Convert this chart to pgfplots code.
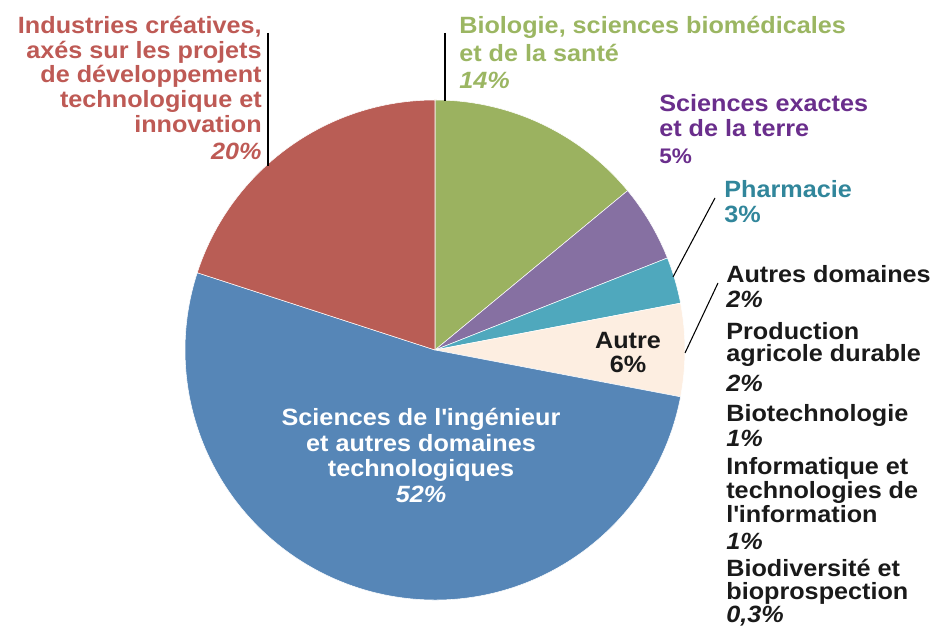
\documentclass[border=0pt]{standalone}
\usepackage{pgfplots}
\pgfplotsset{compat=1.18}
\usepackage{pgfplotstable}
\usepackage{fontspec}
\setmainfont{Liberation Sans}[FakeStretch=1.07]

\definecolor{cgreen}{RGB}{155,178,96}
\definecolor{cpurple}{RGB}{134,112,162}
\definecolor{cteal}{RGB}{79,168,189}
\definecolor{cautre}{RGB}{253,238,225}
\definecolor{cblue}{RGB}{86,134,183}
\definecolor{cred}{RGB}{185,93,85}
\definecolor{tred}{RGB}{190,90,85}
\definecolor{tgreen}{RGB}{155,182,98}
\definecolor{tpurple}{RGB}{106,46,140}
\definecolor{tteal}{RGB}{49,134,155}
\definecolor{tdark}{RGB}{26,26,26}

% share of each field (%), clockwise from the top
\pgfplotstableread{
share color
14 cgreen
5 cpurple
3 cteal
6 cautre
52 cblue
20 cred
}\piedata

\newcommand\lbl{\fontsize{13.4}{15}\selectfont\bfseries}
% one line of text: anchor, colour, x, y, text
\newcommand\tl[5]{\node[anchor=#1,text=#2,inner sep=0,font=\lbl] at (axis cs:#3,#4) {#5};}

\begin{document}
\begin{tikzpicture}
\begin{axis}[
  scale only axis,
  width=18.74cm, height=12.6cm,
  xmin=0, xmax=937, ymin=0, ymax=630,
  hide axis, clip=false,
]
% slices
\pgfplotstablegetrowsof{\piedata}
\pgfmathtruncatemacro\nrows{\pgfplotsretval-1}
\def\cumul{0}
\pgfplotsforeachungrouped \i in {0,...,\nrows}{
  \pgfplotstablegetelem{\i}{share}\of\piedata \let\s\pgfplotsretval
  \pgfplotstablegetelem{\i}{color}\of\piedata \let\c\pgfplotsretval
  \pgfmathsetmacro\a{90-3.6*\cumul}
  \pgfmathsetmacro\b{90-3.6*(\cumul+\s)}
  \edef\temp{\noexpand\fill[\c,draw=white,line width=0.3pt]
    (axis cs:435,280) -- ++(\a:5cm) arc[start angle=\a,end angle=\b,radius=5cm] -- cycle;}
  \temp
  \pgfmathsetmacro\cumul{\cumul+\s}
}

% leader lines
\draw[line width=0.6pt] (axis cs:268,597) -- (axis cs:268,464);
\draw[line width=0.6pt] (axis cs:445,597) -- (axis cs:445,529);
\draw[line width=0.6pt] (axis cs:715,432) -- (axis cs:673,353);
\draw[line width=0.6pt] (axis cs:718,347) -- (axis cs:685,277);

% red
\tl{base east}{tred}{262}{596}{Industries créatives,}
\tl{base east}{tred}{262}{571}{axés sur les projets}
\tl{base east}{tred}{262}{547}{de développement}
\tl{base east}{tred}{262}{522}{technologique et}
\tl{base east}{tred}{262}{497}{innovation}
\tl{base east}{tred}{262}{470}{\itshape 20\%}
% green
\tl{base west}{tgreen}{459}{596}{Biologie, sciences biomédicales}
\tl{base west}{tgreen}{459}{568}{et de la santé}
\tl{base west}{tgreen}{459}{541}{\itshape 14\%}
% purple
\tl{base west}{tpurple}{659}{518}{Sciences exactes}
\tl{base west}{tpurple}{659}{493}{et de la terre}
\tl{base west}{tpurple}{659}{466}{\fontsize{12}{13}\selectfont 5\%}
% teal
\tl{base west}{tteal}{724}{432}{Pharmacie}
\tl{base west}{tteal}{724}{407}{3\%}
% details of Autre
\tl{base west}{tdark}{726}{347}{Autres domaines}
\tl{base west}{tdark}{726}{322}{\itshape 2\%}
\tl{base west}{tdark}{726}{290}{Production}
\tl{base west}{tdark}{726}{268}{agricole durable}
\tl{base west}{tdark}{726}{238}{\itshape 2\%}
\tl{base west}{tdark}{726}{208}{Biotechnologie}
\tl{base west}{tdark}{726}{183}{\itshape 1\%}
\tl{base west}{tdark}{726}{155}{Informatique et}
\tl{base west}{tdark}{726}{131}{technologies de}
\tl{base west}{tdark}{726}{107}{l\textquotesingle information}
\tl{base west}{tdark}{726}{80}{\itshape 1\%}
\tl{base west}{tdark}{726}{53}{Biodiversité et}
\tl{base west}{tdark}{726}{30}{bioprospection}
\tl{base west}{tdark}{726}{7}{\itshape 0,3\%}
% inside the slices
\tl{base}{tdark}{628}{281}{Autre}
\tl{base}{tdark}{628}{257}{6\%}
\tl{base}{white}{421}{204}{Sciences de l\textquotesingle ingénieur}
\tl{base}{white}{421}{178}{et autres domaines}
\tl{base}{white}{421}{153}{technologiques}
\tl{base}{white}{421}{127}{\itshape 52\%}
\end{axis}
% page = the 937 x 630 frame of the axis
\pgfresetboundingbox
\path (current axis.south west) rectangle (current axis.north east);
\end{tikzpicture}
\end{document}
